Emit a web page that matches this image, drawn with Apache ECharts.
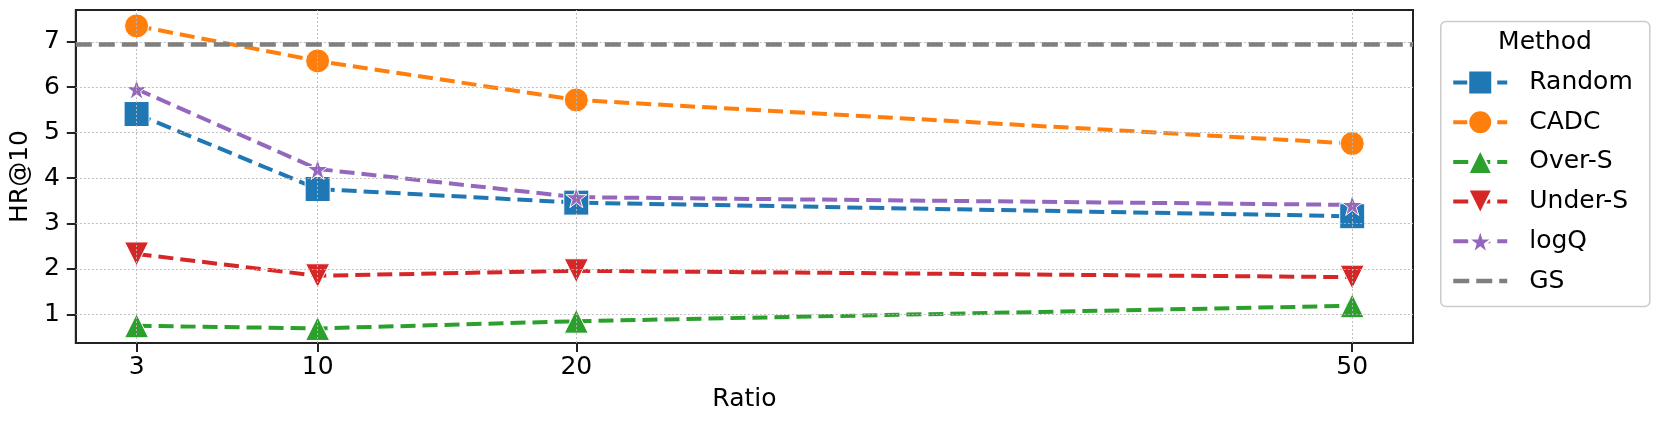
<!DOCTYPE html>
<html>
<head>
<meta charset="utf-8">
<script src="https://cdn.jsdelivr.net/npm/echarts@6/dist/echarts.min.js"></script>
<style>
html,body{margin:0;padding:0;background:#fff;}
#chart{width:1660px;height:427px;}
</style>
</head>
<body>
<div id="chart"></div>
<script>
// ---- data ----
const ratios = [3, 10, 20, 50];
const yTicks = [1, 2, 3, 4, 5, 6, 7];
const randomVals = [5.41, 3.76, 3.46, 3.16];
const cadcVals   = [7.35, 6.58, 5.72, 4.76];
const overVals   = [0.75, 0.69, 0.85, 1.19];
const underVals  = [2.33, 1.85, 1.96, 1.82];
const logqVals   = [5.96, 4.20, 3.58, 3.41];
const gsValue = 6.94;
const methodNames = ['Random', 'CADC', 'Over-S', 'Under-S', 'logQ', 'GS'];

const FONT = 'DejaVu Sans';
const starPath = 'path://M50,0 L61.8,35.4 L99,35.4 L69.1,57.3 L80.3,92.7 L50,70.8 L19.7,92.7 L30.9,57.3 L1,35.4 L38.2,35.4 Z';

function pairs(vals){ return ratios.map((r,i)=>[r, vals[i]]); }

function lineSeries(name, vals, color, symbol, size, rotate){
  return {
    name: name, type: 'line', data: pairs(vals),
    symbol: symbol, symbolSize: size, symbolRotate: rotate || 0,
    showSymbol: true,
    lineStyle: {color: color, width: 4, type: [15, 7]},
    itemStyle: {color: color, borderColor: '#fff', borderWidth: 1, opacity: 1},
    z: 3
  };
}

const legendData = methodNames.map(n => n === 'GS'
  ? {name: n, itemStyle: {opacity: 0}, lineStyle: {width: 4.5}}
  : {name: n});

const chart = echarts.init(document.getElementById('chart'), null, {renderer: 'canvas'});
const option = {
  animation: false,
  backgroundColor: '#fff',
  grid: {left: 74, top: 10, right: 247, bottom: 84, show: true, borderColor: '#222', borderWidth: 2, backgroundColor: 'transparent'},
  xAxis: {
    type: 'value', min: 0.65, max: 52.35,
    name: 'Ratio', nameLocation: 'middle', nameGap: 44,
    nameTextStyle: {fontFamily: FONT, fontSize: 25, color: '#000'},
    axisLine: {show: true, lineStyle: {color: '#222', width: 2}},
    axisTick: {show: true, length: 9, lineStyle: {color: '#222', width: 2}, customValues: ratios},
    axisLabel: {fontFamily: FONT, fontSize: 25, color: '#000', margin: 12, customValues: ratios},
    splitLine: {show: false}
  },
  yAxis: {
    type: 'value', min: 0.37, max: 7.70,
    name: 'HR@10', nameLocation: 'middle', nameGap: 36, nameRotate: 90,
    nameTextStyle: {fontFamily: FONT, fontSize: 25, color: '#000'},
    axisLine: {show: true, lineStyle: {color: '#222', width: 2}},
    axisTick: {show: true, length: 9, lineStyle: {color: '#222', width: 2}, customValues: yTicks},
    axisLabel: {fontFamily: FONT, fontSize: 25, color: '#000', margin: 16, customValues: yTicks},
    splitLine: {show: false}
  },
  legend: {
    data: legendData,
    orient: 'vertical', left: 1451, top: 67.5, padding: 0,
    itemWidth: 54, itemHeight: 30, itemGap: 9.7,
    lineStyle: {width: 4},
    textStyle: {fontFamily: FONT, fontSize: 25, color: '#000', padding: [0, 0, 0, 17], lineHeight: 30},
    selectedMode: false
  },
  graphic: [
    {type: 'rect', left: 1440, top: 20.7, shape: {width: 209, height: 285, r: 5}, style: {fill: '#fff', stroke: '#cccccc', lineWidth: 1.5}, z: 0, silent: true},
    {type: 'text', x: 1545, y: 42.7, style: {text: 'Method', font: '25px "DejaVu Sans"', fill: '#000', textAlign: 'center', textVerticalAlign: 'middle'}, z: 5, silent: true}
  ],
  series: [
    {
      name: 'grid', type: 'line', data: [], silent: true, z: 1,
      markLine: {
        silent: true, symbol: ['none', 'none'], label: {show: false}, animation: false,
        lineStyle: {color: '#b8b8b8', type: [2, 2], width: 0.9},
        data: ratios.map(v => ({xAxis: v})).concat(yTicks.map(v => ({yAxis: v})))
      }
    },
    {
      name: 'GS', type: 'line', data: [], symbol: 'none', z: 2,
      lineStyle: {color: '#7f7f7f', width: 4.5, type: [16, 7]},
      itemStyle: {color: '#7f7f7f'},
      markLine: {
        silent: true, symbol: ['none', 'none'], label: {show: false}, animation: false,
        lineStyle: {color: '#7f7f7f', type: [16, 7], width: 4.5},
        data: [{yAxis: gsValue}]
      }
    },
    lineSeries('Random', randomVals, '#1f77b4', 'rect', 25),
    lineSeries('CADC', cadcVals, '#ff7f0e', 'circle', 24),
    lineSeries('Over-S', overVals, '#2ca02c', 'triangle', [24, 24]),
    lineSeries('Under-S', underVals, '#d62728', 'triangle', [24, 24], 180),
    lineSeries('logQ', logqVals, '#9467bd', starPath, 21)
  ]
};
chart.setOption(option);
</script>
</body>
</html>
